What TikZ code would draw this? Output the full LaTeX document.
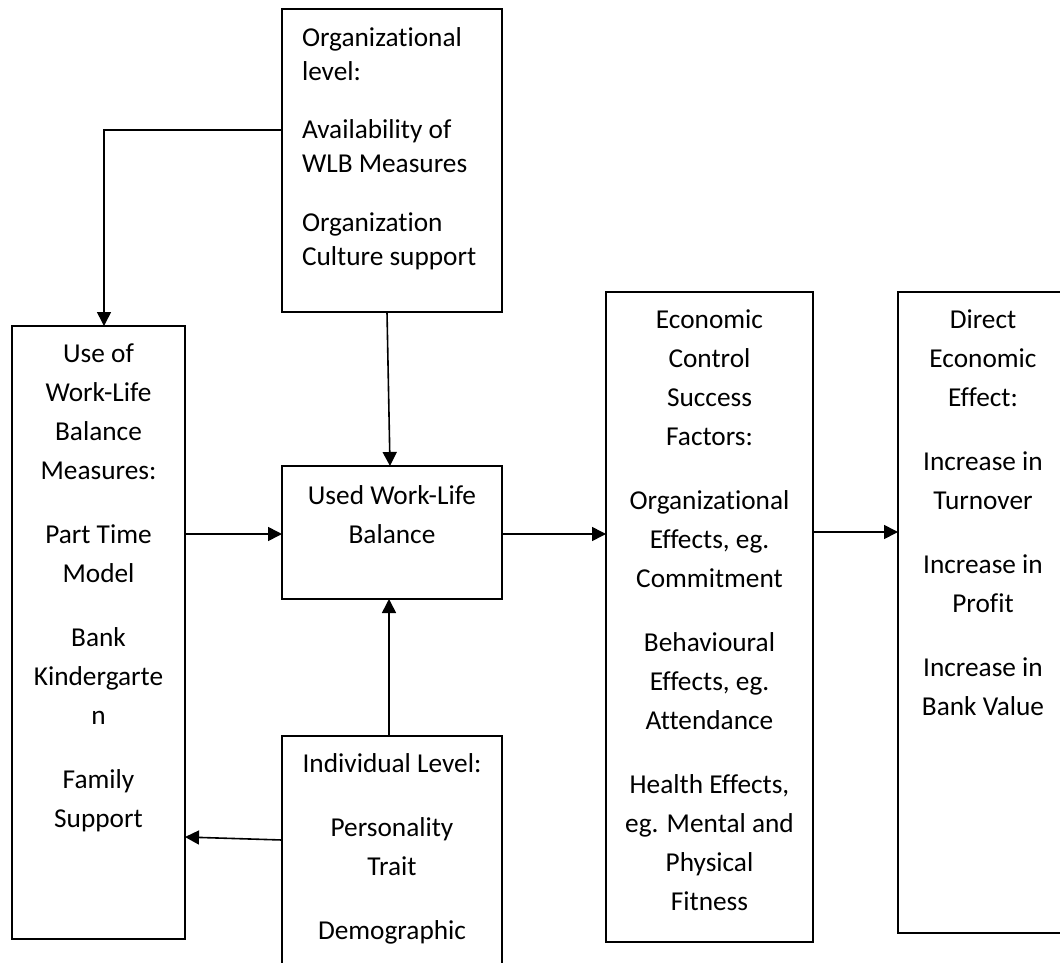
\documentclass[tikz,border=0pt]{standalone}
\usepackage{fontspec}
\setmainfont[Ligatures=NoCommon]{Carlito}
\usetikzlibrary{arrows.meta}
% fixed-height strut so every text block's first line starts at a known height
\newcommand\lnstrut{\rule{0pt}{11pt}}
\begin{document}
\begin{tikzpicture}[x=0.5pt,y=-0.5pt,
  box/.style={draw, line width=0.85pt, rectangle, inner sep=0pt, outer sep=0pt},
  lbl/.style={inner sep=0pt, outer sep=0pt, align=center, anchor=north,
              font=\fontsize{13.65pt}{19.5pt}\selectfont},
  lblleft/.style={inner sep=0pt, outer sep=0pt, align=left, anchor=north west,
              font=\fontsize{13.65pt}{17pt}\selectfont},
  arr/.style={line width=0.8pt, -{Triangle[length=7pt,width=7pt]}}]
\useasboundingbox (0,0) rectangle (1060,963);
\clip (0,0) rectangle (1060,963);

% boxes
\node[box, minimum width=110pt,  minimum height=151.5pt] (org)    at (392,160.5) {};
\node[box, minimum width=86.5pt, minimum height=306.5pt] (use)    at (98.5,632.5) {};
\node[box, minimum width=110pt,  minimum height=66.5pt]  (used)   at (392,532.5) {};
\node[box, minimum width=110pt,  minimum height=132pt]   (indiv)  at (392,868) {};
\node[box, minimum width=103.5pt,minimum height=325pt]   (econ)   at (709.5,617) {};
\node[box, minimum width=85pt,   minimum height=320.5pt] (direct) at (983,612.5) {};

% texts
\node[lblleft] (orgT) at (302,24) {\lnstrut Organizational\\ level:\\[12.25pt]
  Availability of\\ WLB Measures\\[12.25pt] Organization\\ Culture support};
\node[lbl] (useT) at (98.5,340) {\lnstrut Use of\\ Work-Life\\ Balance\\ Measures:\\[12.5pt]
  Part Time\\ Model\\[12.5pt] Bank\\ Kindergarte\\ n\\[12.5pt] Family\\ Support};
\node[lbl] (usedT) at (392,482) {\lnstrut Used Work-Life\\ Balance};
\node[lbl] (indivT) at (392,750) {\lnstrut Individual Level:\\[12.5pt]
  Personality\\ Trait\\[12.5pt] Demographic};
\node[lbl] (econT) at (709.5,306) {\lnstrut Economic\\ Control\\ Success\\ Factors:\\[12.5pt]
  Organizational\\ Effects, eg.\\ Commitment\\[12.5pt]
  Behavioural\\ Effects, eg.\\ Attendance\\[12.5pt]
  Health Effects,\\ eg. Mental and\\ Physical\\ Fitness};
\node[lbl] (directT) at (983,306) {\lnstrut Direct\\ Economic\\ Effect:\\[12.5pt]
  Increase in\\ Turnover\\[12.5pt] Increase in\\ Profit\\[12.5pt] Increase in\\ Bank Value};

% connectors
\coordinate (bend) at (104,130);
\draw[arr] (org.west |- bend) -- (bend) -- (bend |- use.north);
\coordinate (sx) at (387,0);
\coordinate (ex) at (390,0);
\draw[arr] (org.south -| sx) -- (used.north -| ex);
\coordinate (rowA) at (0,534);
\draw[arr] (use.east |- rowA) -- (used.west |- rowA);
\draw[arr] (used.east |- rowA) -- (econ.west |- rowA);
\coordinate (rowB) at (0,532);
\draw[arr] (econ.east |- rowB) -- (direct.west |- rowB);
\coordinate (rowC) at (0,840);
\coordinate (rowD) at (0,837);
\draw[arr] (indiv.west |- rowC) -- (use.east |- rowD);
\coordinate (colG) at (389,0);
\draw[arr] (indiv.north -| colG) -- (used.south -| colG);
\end{tikzpicture}
\end{document}
